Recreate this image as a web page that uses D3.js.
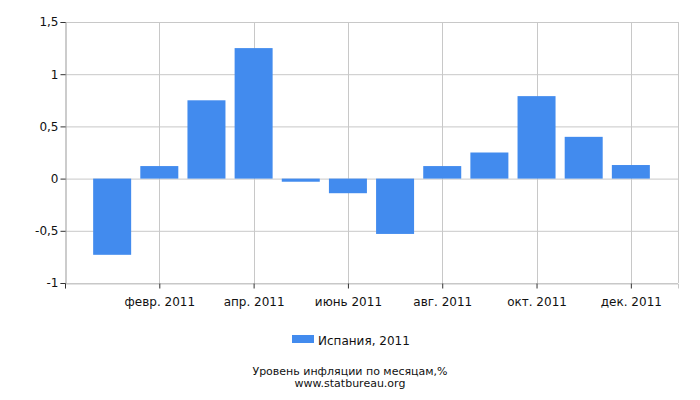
<!DOCTYPE html>
<html>
<head>
<meta charset="utf-8">
<script src="https://cdn.jsdelivr.net/npm/d3@7"></script>
<style>
  body { margin: 0; background: #fff; }
  text { font-family: "DejaVu Sans", sans-serif; fill: #111; }
</style>
</head>
<body>
<svg width="700" height="400"></svg>
<script>
// data
const months = ['янв. 2011', 'февр. 2011', 'март 2011', 'апр. 2011', 'май 2011', 'июнь 2011',
  'июль 2011', 'авг. 2011', 'сент. 2011', 'окт. 2011', 'нояб. 2011', 'дек. 2011'];
const values = [-0.73, 0.12, 0.75, 1.25, -0.03, -0.14, -0.53, 0.12, 0.25, 0.79, 0.40, 0.13];
const yTicks = [-1, -0.5, 0, 0.5, 1, 1.5];
const seriesName = 'Испания, 2011';

const svg = d3.select('svg');
const plotL = 65, plotR = 678, plotT = 22, plotB = 283;

// month index -1 .. 12 spans the plot, bars centred on whole indexes
const x = d3.scaleLinear().domain([-1, 12]).range([plotL, plotR]);
const y = d3.scaleLinear().domain([-1, 1.5]).range([plotB, plotT]);
const fmt = d => String(d).replace('.', ',');

// horizontal grid
svg.append('g')
  .selectAll('line')
  .data(yTicks)
  .join('line')
  .attr('x1', plotL).attr('x2', plotR)
  .attr('y1', d => y(d) + 0.5).attr('y2', d => y(d) + 0.5)
  .attr('stroke', '#c8c8c8');

// vertical grid on every second month
const xTickIdx = d3.range(1, 12, 2);
svg.append('g')
  .selectAll('line')
  .data(xTickIdx)
  .join('line')
  .attr('x1', d => Math.round(x(d)) + 0.5).attr('x2', d => Math.round(x(d)) + 0.5)
  .attr('y1', plotT).attr('y2', plotB)
  .attr('stroke', '#c8c8c8');

// right border
svg.append('line')
  .attr('x1', plotR + 0.5).attr('x2', plotR + 0.5)
  .attr('y1', plotT).attr('y2', plotB)
  .attr('stroke', '#c8c8c8');

// bars
const bw = 38;
svg.append('g')
  .selectAll('rect')
  .data(values)
  .join('rect')
  .attr('x', (d, i) => x(i) - bw / 2)
  .attr('width', bw)
  .attr('y', d => y(Math.max(0, d)))
  .attr('height', d => Math.abs(y(d) - y(0)))
  .attr('fill', '#428bee');

// y axis
const yAxis = svg.append('g')
  .attr('transform', `translate(${plotL + 0.5},0)`)
  .call(d3.axisLeft(y).tickValues(yTicks).tickFormat(fmt).tickSize(5).tickPadding(2));
yAxis.select('.domain').attr('stroke', '#999');
yAxis.selectAll('.tick line').attr('stroke', '#333');
yAxis.selectAll('text').style('font-size', '12px');

// x axis
const xAxis = svg.append('g')
  .attr('transform', `translate(0,${plotB + 0.5})`)
  .call(d3.axisBottom(x).tickValues([-1].concat(xTickIdx))
    .tickFormat(d => d < 0 ? '' : months[d]).tickSize(5).tickPadding(9));
xAxis.select('.domain').attr('stroke', '#c8c8c8');
xAxis.selectAll('.tick line').attr('stroke', '#333');
xAxis.selectAll('text').style('font-size', '12px');

// legend
svg.append('rect')
  .attr('x', 292).attr('y', 335).attr('width', 22).attr('height', 8)
  .attr('fill', '#428bee');
svg.append('text')
  .attr('x', 318).attr('y', 345)
  .style('font-size', '12px')
  .text(seriesName);

// caption
svg.append('text')
  .attr('x', 350).attr('y', 375)
  .attr('text-anchor', 'middle')
  .style('font-size', '11px')
  .text('Уровень инфляции по месяцам,%');
svg.append('text')
  .attr('x', 350).attr('y', 387)
  .attr('text-anchor', 'middle')
  .style('font-size', '11px')
  .text('www.statbureau.org');
</script>
</body>
</html>
